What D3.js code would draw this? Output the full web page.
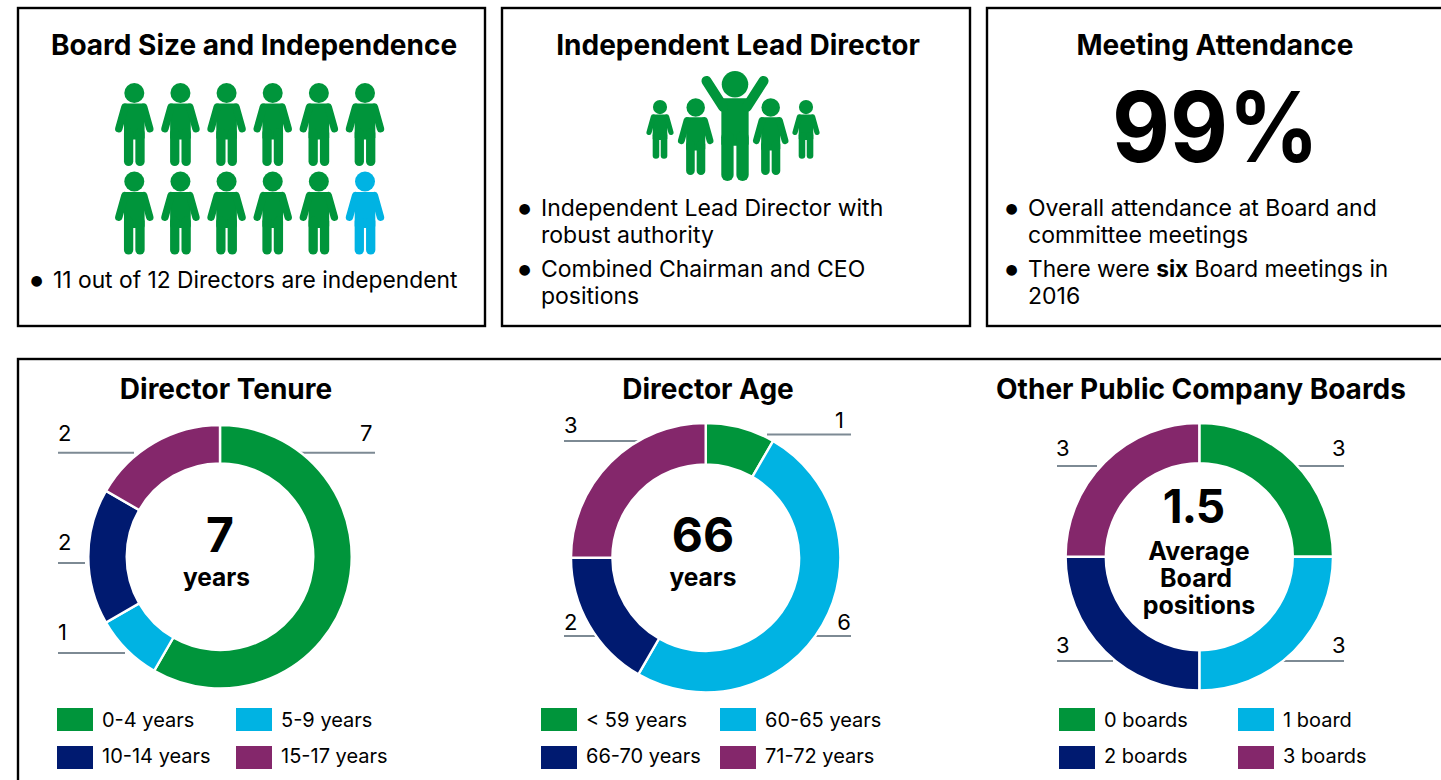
<!DOCTYPE html>
<html>
<head>
<meta charset="utf-8">
<script src="https://cdn.jsdelivr.net/npm/d3@7"></script>
<style>
  html, body { margin: 0; padding: 0; background: #fff; overflow: hidden; }
  text { font-family: Inter, "Noto Sans", sans-serif; fill: #000; }
  .title { font-size: 28px; font-weight: 700; text-anchor: middle; }
  .bullet { font-size: 23px; }
  .legend { font-size: 20px; }
  .count { font-size: 22px; }
</style>
</head>
<body>
<svg id="chart" width="1441" height="780"></svg>
<script>
// data
const colors = ["#00953b", "#00b3e3", "#001a70", "#84276b"];

const directorStatus = ["independent", "independent", "independent", "independent", "independent", "independent",
  "independent", "independent", "independent", "independent", "independent", "other"];

const tenureLabels = ["0-4 years", "5-9 years", "10-14 years", "15-17 years"];
const tenureValues = [7, 1, 2, 2];
const ageLabels = ["< 59 years", "60-65 years", "66-70 years", "71-72 years"];
const ageValues = [1, 6, 2, 3];
const boardLabels = ["0 boards", "1 board", "2 boards", "3 boards"];
const boardValues = [3, 3, 3, 3];

const svg = d3.select("#chart");
const color = d3.scaleOrdinal().domain([0, 1, 2, 3]).range(colors);

// panels
const panels = [[18, 8, 467, 318], [502, 8, 468, 318], [987, 8, 470, 318], [18, 359, 1440, 440]];
svg.selectAll("rect.panel").data(panels).enter().append("rect")
  .attr("class", "panel")
  .attr("x", d => d[0]).attr("y", d => d[1])
  .attr("width", d => d[2]).attr("height", d => d[3])
  .attr("fill", "none").attr("stroke", "#000").attr("stroke-width", 2.4);

// one stick figure, origin at the top of the head, 83 units tall
function person(parent, x, y, scale, fill, raised) {
  const g = parent.append("g")
    .attr("transform", `translate(${x},${y}) scale(${scale})`)
    .attr("fill", fill);
  g.append("circle").attr("cx", 0).attr("cy", 10).attr("r", 10);

  const line = d3.line();
  const limb = (pts, w) => g.append("path")
    .attr("d", line(pts))
    .attr("fill", "none").attr("stroke", fill)
    .attr("stroke-width", w).attr("stroke-linecap", "round");

  // torso
  g.append("rect").attr("x", -10.3).attr("y", 20.5).attr("width", 20.6).attr("height", 36).attr("rx", 2);
  // legs
  limb([[-5.7, 50], [-5.7, 78.4]], 9.3);
  limb([[5.7, 50], [5.7, 78.4]], 9.3);
  // arms
  if (raised) {
    limb([[-9, 27], [-21.5, 7.5]], 7.6);
    limb([[9, 27], [21.5, 7.5]], 7.6);
  } else {
    limb([[-9.4, 24], [-15.5, 45.8]], 7.4);
    limb([[9.4, 24], [15.5, 45.8]], 7.4);
  }
}

// board size pictogram
const col = d3.scalePoint().domain(d3.range(6)).range([134.3, 365]);
const row = d3.scalePoint().domain([0, 1]).range([83, 171.5]);
directorStatus.forEach((d, i) => {
  person(svg, col(i % 6), row(Math.floor(i / 6)), 1, d === "independent" ? colors[0] : colors[1], false);
});

// lead director pictogram
[[660, 100, 0.707, false], [695.7, 98.3, 0.925, false], [770.7, 98.3, 0.925, false], [806, 100, 0.707, false], [735, 71, 1.325, true]]
  .forEach(p => person(svg, p[0], p[1], p[2], colors[0], p[3]));

// panel titles
const titles = [
  ["Board Size and Independence", 254, 55],
  ["Independent Lead Director", 738, 55],
  ["Meeting Attendance", 1215, 55],
  ["Director Tenure", 226, 399],
  ["Director Age", 708, 399],
  ["Other Public Company Boards", 1201, 399]
];
svg.selectAll("text.title").data(titles).enter().append("text")
  .attr("class", "title")
  .attr("x", d => d[1]).attr("y", d => d[2])
  .text(d => d[0]);

svg.append("text").attr("x", 1215.5).attr("y", 162)
  .attr("text-anchor", "middle")
  .attr("textLength", 207).attr("lengthAdjust", "spacingAndGlyphs")
  .style("font-size", "98px").style("font-weight", 700)
  .text("99%");

// bullets
const bullets = [
  [53, 288, "11 out of 12 Directors are independent", true, 22.8],
  [541, 216, "Independent Lead Director with", true, 23],
  [541, 242.5, "robust authority", false, 23],
  [541, 277, "Combined Chairman and CEO", true, 23],
  [541, 304, "positions", false, 23],
  [1028, 216, "Overall attendance at Board and", true, 23],
  [1028, 242.5, "committee meetings", false, 23],
  [1028, 304, "2016", false, 23]
];
function dot(x, y) {
  svg.append("text").attr("x", x - 16.5).attr("y", y - 3)
    .attr("text-anchor", "middle")
    .style("font-family", "DejaVu Sans").style("font-size", "14px").text("●");
}
bullets.forEach(b => {
  svg.append("text").attr("class", "bullet").attr("x", b[0]).attr("y", b[1])
    .style("font-size", b[4] + "px").text(b[2]);
  if (b[3]) dot(b[0], b[1]);
});
const six = svg.append("text").attr("class", "bullet").attr("x", 1028).attr("y", 277)
  .style("font-size", "22.7px");
six.append("tspan").text("There were ");
six.append("tspan").style("font-weight", 700).text("six");
six.append("tspan").text(" Board meetings in");
dot(1028, 277);

// donuts
const pie = d3.pie().sort(null).value(d => d);

function donut(cfg) {
  const arc = d3.arc().innerRadius(cfg.inner).outerRadius(cfg.outer);
  const g = svg.append("g");

  // leader lines go under the ring
  g.selectAll("line").data(cfg.leaders).enter().append("line")
    .attr("x1", d => d[0]).attr("x2", d => d[1])
    .attr("y1", d => d[2]).attr("y2", d => d[2])
    .attr("stroke", "#7d8a94").attr("stroke-width", 2);

  g.selectAll("text.count").data(cfg.leaders).enter().append("text")
    .attr("class", "count")
    .attr("x", d => d[5])
    .attr("y", d => d[4])
    .attr("text-anchor", d => d[3])
    .text((d, i) => cfg.values[i]);

  g.append("g")
    .attr("transform", `translate(${cfg.cx},${cfg.cy})`)
    .selectAll("path").data(pie(cfg.values)).enter().append("path")
    .attr("d", arc)
    .attr("fill", (d, i) => color(i))
    .attr("stroke", "#fff").attr("stroke-width", 2.4);

  g.selectAll("text.center").data(cfg.center).enter().append("text")
    .attr("class", "center")
    .attr("x", d => d[1]).attr("y", d => d[2])
    .attr("text-anchor", "middle")
    .style("font-size", d => d[3] + "px").style("font-weight", 700)
    .style("letter-spacing", d => d[4] || 0)
    .text(d => d[0]);

  // wrapped caption in the hole is one text with a tspan per line
  if (cfg.caption) {
    g.append("text").attr("text-anchor", "middle")
      .style("font-size", "25px").style("font-weight", 700)
      .selectAll("tspan").data(cfg.caption).enter().append("tspan")
      .attr("x", d => d[1]).attr("y", d => d[2])
      .text(d => d[0]);
  }

  // legend, two columns by two rows
  const lx = d3.scalePoint().domain([0, 1]).range(cfg.legendX);
  const ly = d3.scalePoint().domain([0, 1]).range([708, 746]);
  const baseline = [19, 16.7];
  const items = g.selectAll("g.item").data(cfg.labels).enter().append("g")
    .attr("transform", (d, i) => `translate(${lx(i % 2)},${ly(Math.floor(i / 2))})`);
  items.append("rect").attr("width", 36).attr("height", 23).attr("fill", (d, i) => color(i));
  items.append("text").attr("class", "legend").attr("x", 45).attr("y", (d, i) => baseline[Math.floor(i / 2)]).text(d => d);
}

// leaders: x start, x end, y, label anchor, label baseline, label x (same order as values)
donut({
  cx: 220, cy: 556.7, outer: 131.7, inner: 93.3,
  values: tenureValues, labels: tenureLabels, legendX: [57, 236],
  leaders: [[299, 375, 452.7, "end", 441, 372.5], [58, 125, 653, "start", 640, 58], [58, 85, 563, "start", 550, 58], [58, 134, 452.7, "start", 441, 58]],
  center: [["7", 220, 552, 48], ["years", 216.5, 586, 24.5]]
});
donut({
  cx: 705.7, cy: 557.7, outer: 134.7, inner: 93.3,
  values: ageValues, labels: ageLabels, legendX: [541, 720],
  leaders: [[767, 851, 434.5, "end", 428, 844], [815, 851, 636, "end", 630, 851], [564, 595, 636, "start", 630, 564], [564, 638, 441, "start", 433, 564]],
  center: [["66", 703, 552, 48], ["years", 703, 586, 24.5]]
});
donut({
  cx: 1199.3, cy: 556.7, outer: 133.7, inner: 93.5,
  values: boardValues, labels: boardLabels, legendX: [1059, 1238],
  leaders: [[1297, 1344, 466, "end", 456, 1345.5], [1283, 1344, 661, "end", 653, 1345.5], [1057, 1113, 661, "start", 653, 1056], [1057, 1097, 466, "start", 456, 1056]],
  center: [["1.5", 1193.5, 523, 46, "-1px"]],
  caption: [["Average", 1199, 560], ["Board", 1196, 587], ["positions", 1199, 614]]
});
</script>
</body>
</html>
